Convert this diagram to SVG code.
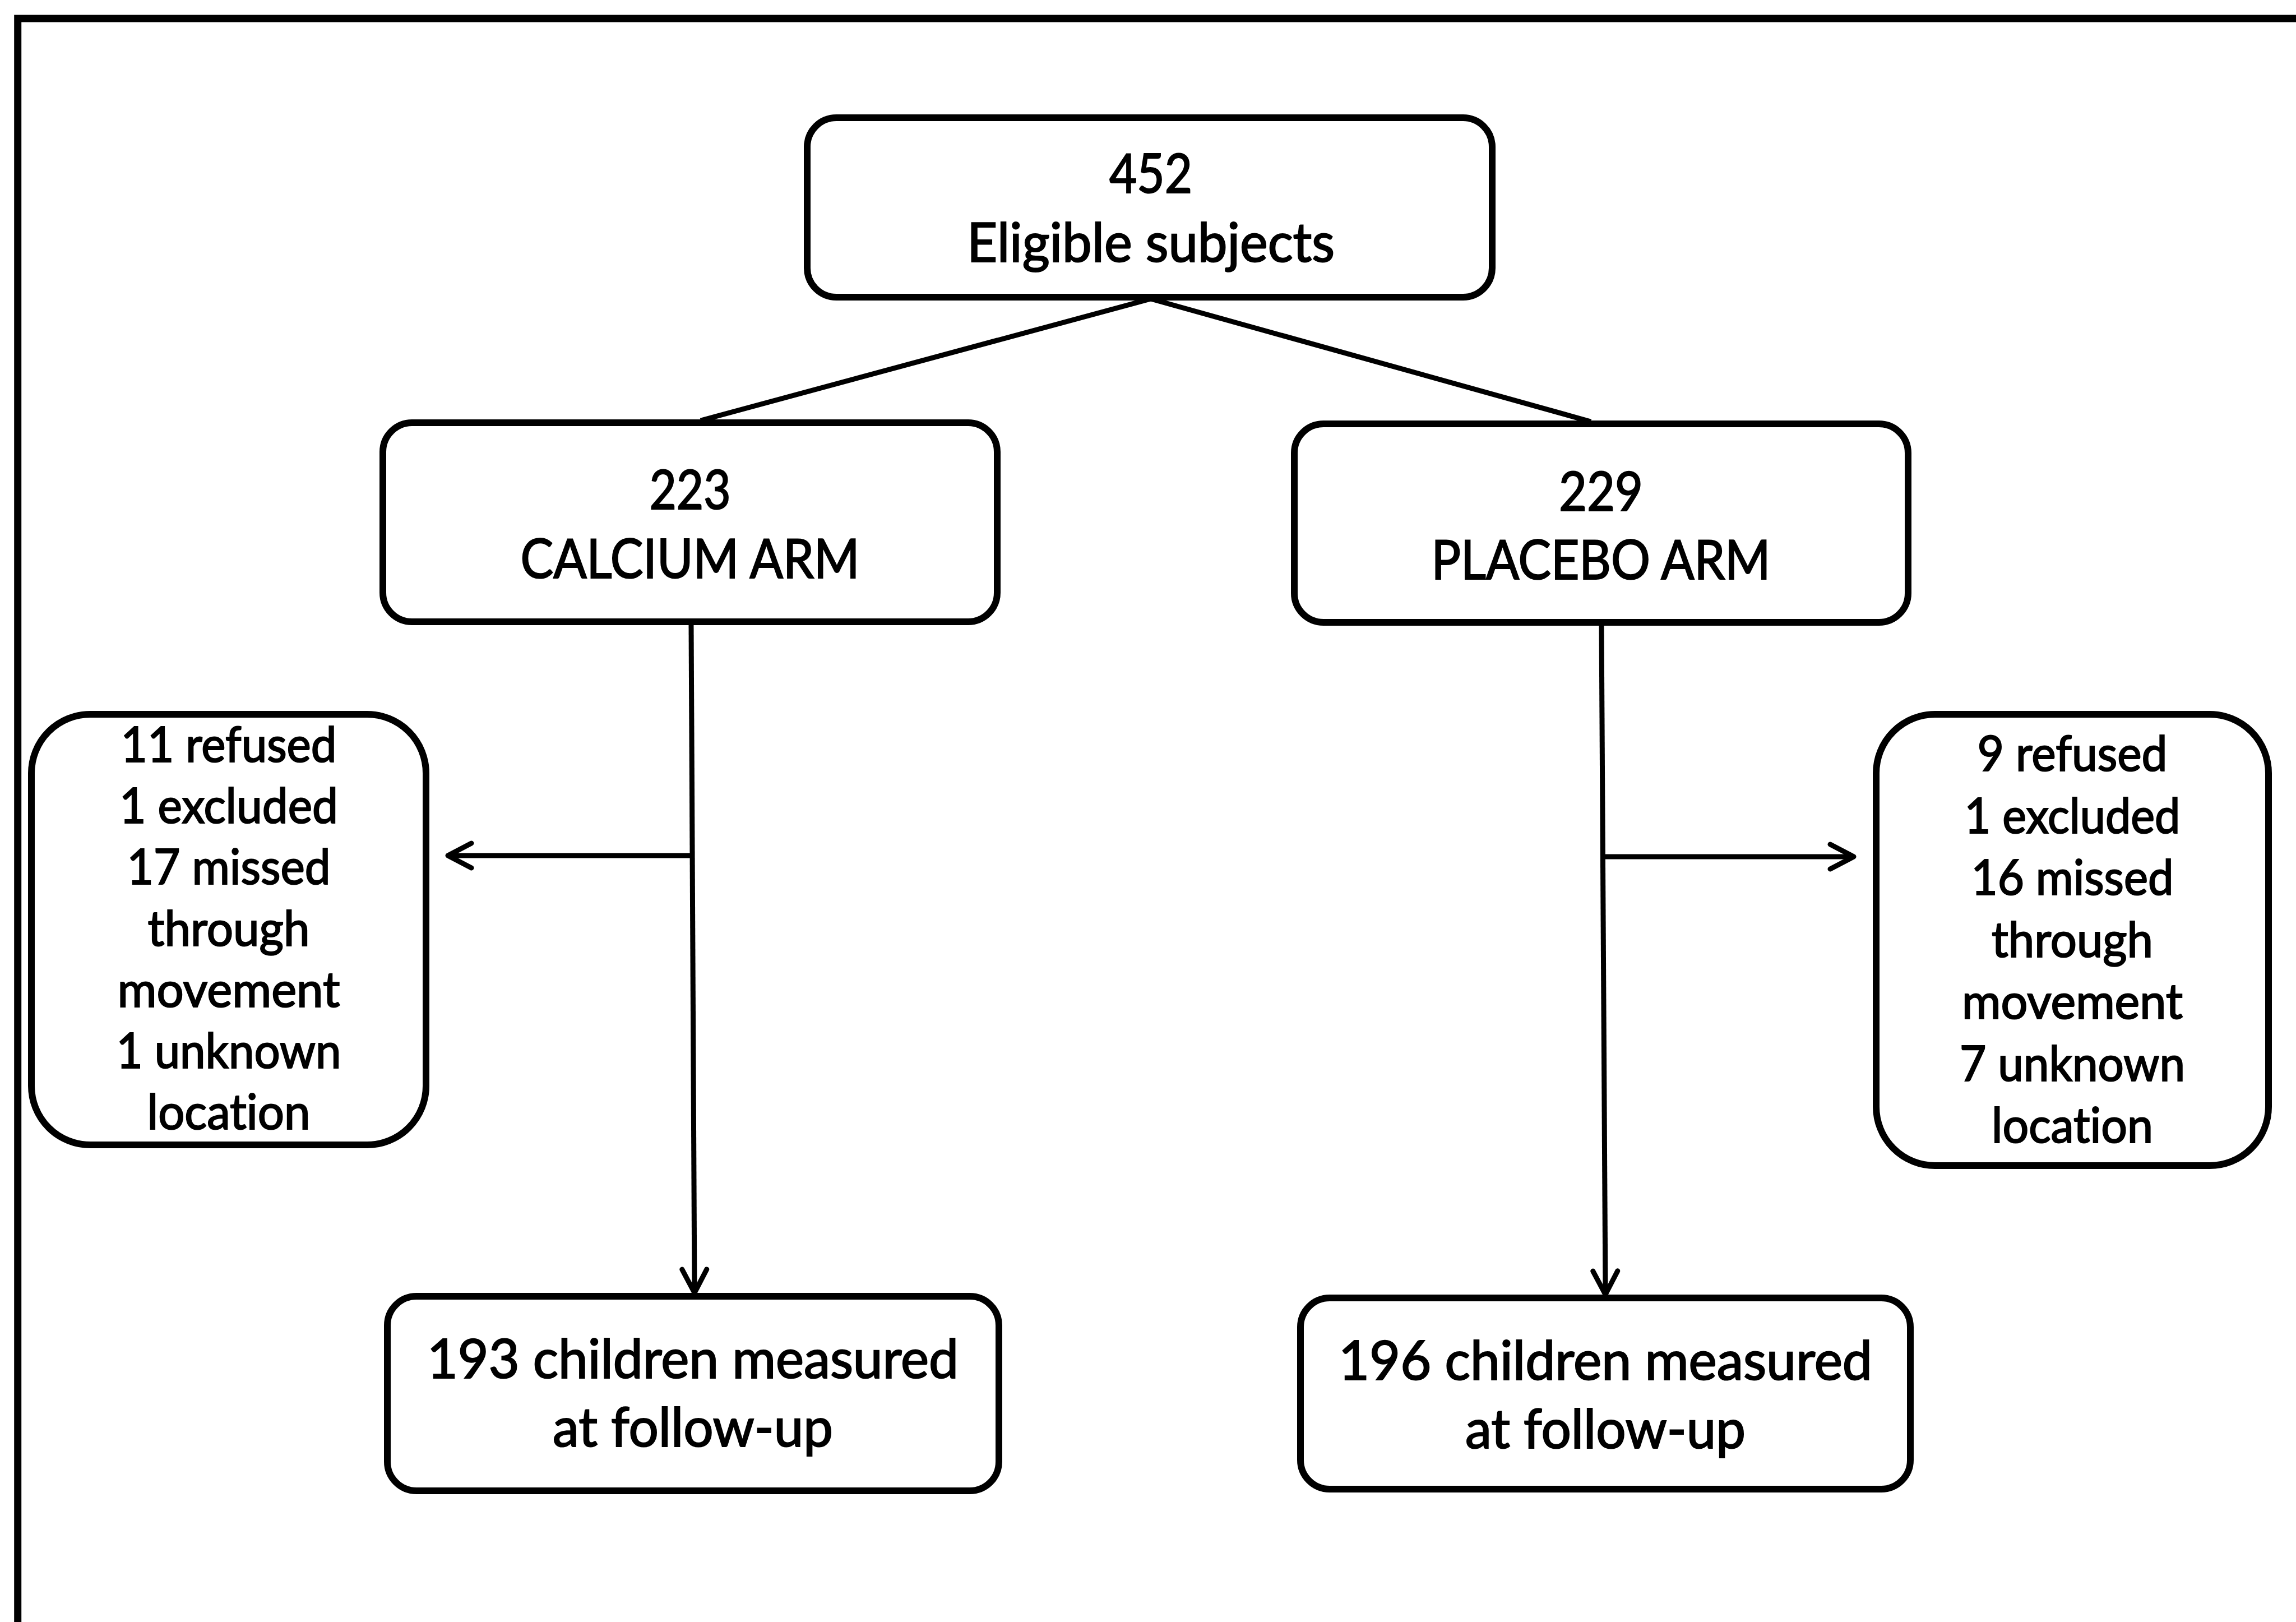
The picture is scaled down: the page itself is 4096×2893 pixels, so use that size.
<svg xmlns="http://www.w3.org/2000/svg" width="4096" height="2893" viewBox="0 0 4096 2893">
  <style>
    .frame { fill: none; stroke: #000; stroke-width: 13; }
    .box { fill: #fff; stroke: #000; stroke-width: 12; }
    .link { fill: none; stroke: #000; stroke-width: 9; }
    .t { font-family: Lato, "Open Sans", "Liberation Sans", sans-serif; fill: #000; stroke: #000; stroke-width: 2.2; text-anchor: middle; font-variant-ligatures: none; }
    .big { font-size: 97px; }
    .small { font-size: 88px; }
  </style>
  <defs>
    <marker id="open-arrow" markerUnits="userSpaceOnUse" viewBox="-60 -40 80 80" markerWidth="80" markerHeight="80" refX="0" refY="0" orient="auto" overflow="visible">
      <polyline points="-42,-22 0,0 -42,22" fill="none" stroke="#000" stroke-width="9" stroke-linejoin="round" stroke-linecap="round"/>
    </marker>
  </defs>

  <rect x="0" y="0" width="4096" height="2893" fill="#fff"/>

  <!-- outer frame: left and top edges only -->
  <path class="frame" d="M31.7 2893 V33 H4096"/>

  <!-- connectors -->
  <g id="connectors">
    <line class="link" x1="2053" y1="533" x2="1250" y2="750"/>
    <line class="link" x1="2053" y1="533" x2="2838" y2="752"/>
    <line class="link" x1="1233" y1="1114" x2="1239" y2="2306" marker-end="url(#open-arrow)"/>
    <line class="link" x1="1236" y1="1526" x2="799" y2="1526" marker-end="url(#open-arrow)"/>
    <line class="link" x1="2857" y1="1115" x2="2864" y2="2309" marker-end="url(#open-arrow)"/>
    <line class="link" x1="2860" y1="1528" x2="3307" y2="1528" marker-end="url(#open-arrow)"/>
  </g>

  <g id="eligible">
    <rect class="box" x="1440" y="210" width="1222" height="320" rx="52" ry="52"/>
    <text class="t big" x="2053" y="344" textLength="148" lengthAdjust="spacingAndGlyphs">452</text>
    <text class="t big" x="2053" y="467" textLength="656" lengthAdjust="spacingAndGlyphs">Eligible subjects</text>
  </g>

  <g id="calcium-arm">
    <rect class="box" x="683" y="754" width="1096" height="355" rx="52" ry="52"/>
    <text class="t big" x="1231" y="908" textLength="145" lengthAdjust="spacingAndGlyphs">223</text>
    <text class="t big" x="1231" y="1031" textLength="605" lengthAdjust="spacingAndGlyphs">CALCIUM ARM</text>
  </g>

  <g id="placebo-arm">
    <rect class="box" x="2309" y="756" width="1095" height="354" rx="52" ry="52"/>
    <text class="t big" x="2856" y="911" textLength="150" lengthAdjust="spacingAndGlyphs">229</text>
    <text class="t big" x="2856" y="1033" textLength="605" lengthAdjust="spacingAndGlyphs">PLACEBO ARM</text>
  </g>

  <g id="calcium-losses">
    <rect class="box" x="56" y="1274" width="704" height="768" rx="105" ry="105"/>
    <text class="t small" x="408" y="1359" textLength="385" lengthAdjust="spacingAndGlyphs">11 refused</text>
    <text class="t small" x="408" y="1468" textLength="390" lengthAdjust="spacingAndGlyphs">1 excluded</text>
    <text class="t small" x="408" y="1577" textLength="363" lengthAdjust="spacingAndGlyphs">17 missed</text>
    <text class="t small" x="408" y="1687" textLength="289" lengthAdjust="spacingAndGlyphs">through</text>
    <text class="t small" x="408" y="1796" textLength="397" lengthAdjust="spacingAndGlyphs">movement</text>
    <text class="t small" x="408" y="1905" textLength="401" lengthAdjust="spacingAndGlyphs">1 unknown</text>
    <text class="t small" x="408" y="2014" textLength="291" lengthAdjust="spacingAndGlyphs">location</text>
  </g>

  <g id="placebo-losses">
    <rect class="box" x="3347" y="1274" width="700" height="805" rx="105" ry="105"/>
    <text class="t small" x="3697" y="1375" textLength="339" lengthAdjust="spacingAndGlyphs">9 refused</text>
    <text class="t small" x="3697" y="1486" textLength="385" lengthAdjust="spacingAndGlyphs">1 excluded</text>
    <text class="t small" x="3697" y="1596" textLength="361" lengthAdjust="spacingAndGlyphs">16 missed</text>
    <text class="t small" x="3697" y="1707" textLength="288" lengthAdjust="spacingAndGlyphs">through</text>
    <text class="t small" x="3697" y="1817" textLength="394" lengthAdjust="spacingAndGlyphs">movement</text>
    <text class="t small" x="3697" y="1928" textLength="402" lengthAdjust="spacingAndGlyphs">7 unknown</text>
    <text class="t small" x="3697" y="2038" textLength="288" lengthAdjust="spacingAndGlyphs">location</text>
  </g>

  <g id="calcium-followup">
    <rect class="box" x="691" y="2312" width="1091" height="347" rx="52" ry="52"/>
    <text class="t big" x="1236" y="2458" textLength="948" lengthAdjust="spacingAndGlyphs">193 children measured</text>
    <text class="t big" x="1236" y="2580" textLength="500" lengthAdjust="spacingAndGlyphs">at follow-up</text>
  </g>

  <g id="placebo-followup">
    <rect class="box" x="2320" y="2315" width="1088" height="341" rx="52" ry="52"/>
    <text class="t big" x="2864" y="2461" textLength="952" lengthAdjust="spacingAndGlyphs">196 children measured</text>
    <text class="t big" x="2864" y="2583" textLength="500" lengthAdjust="spacingAndGlyphs">at follow-up</text>
  </g>
</svg>
